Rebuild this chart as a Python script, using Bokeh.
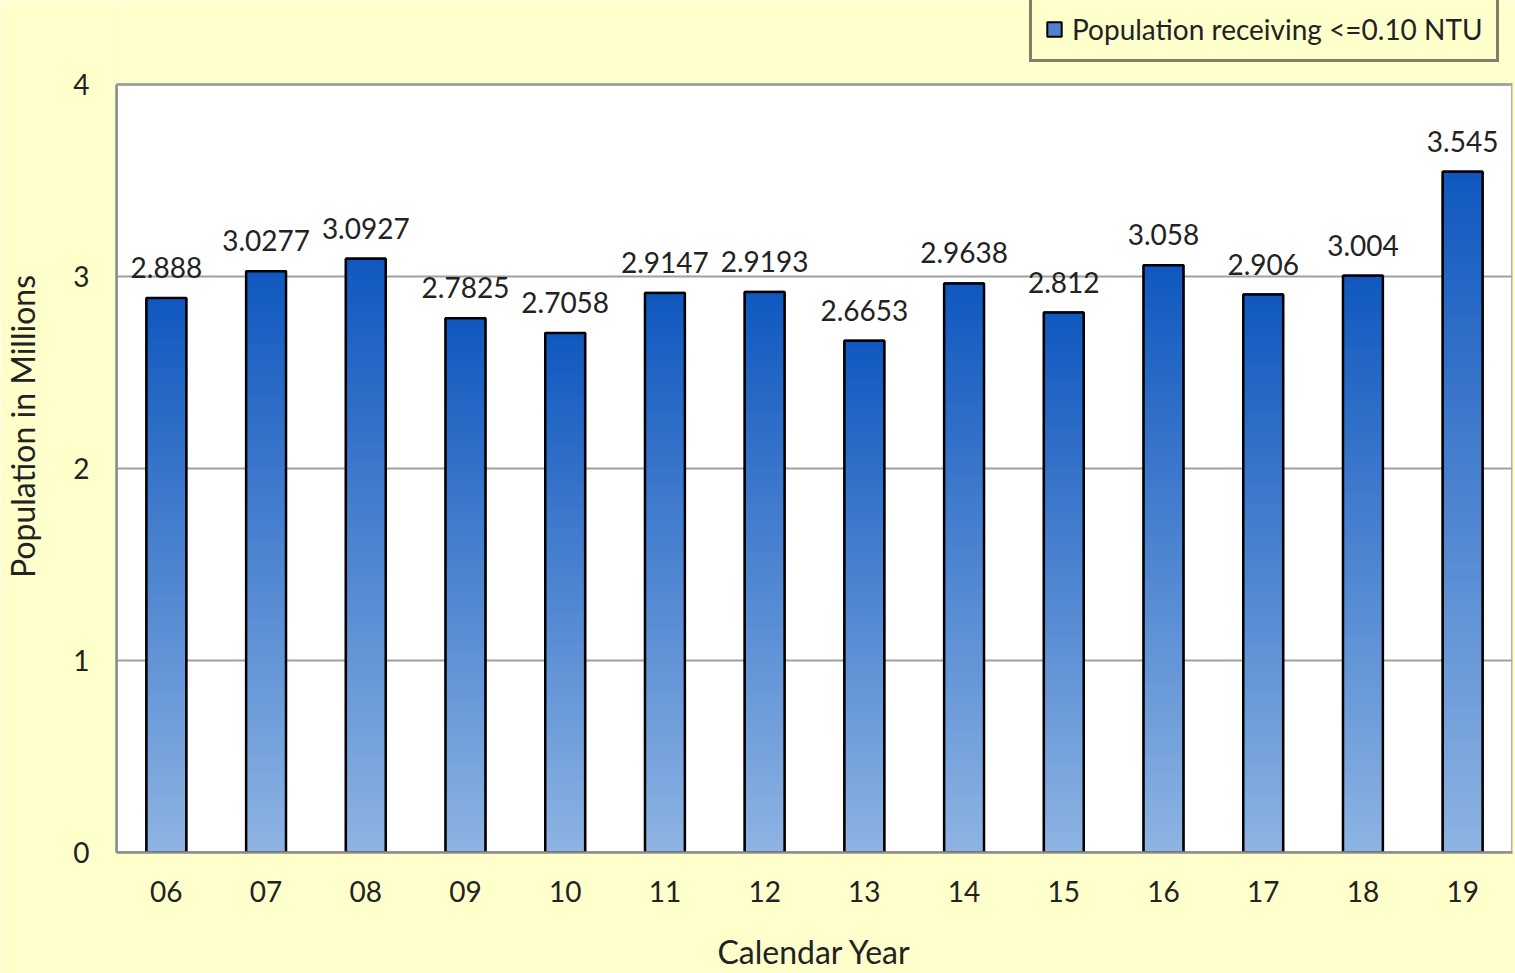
from bokeh.plotting import figure
from bokeh.models import ColumnDataSource, Range1d, Legend, LegendItem, FixedTicker, LabelSet, BoxAnnotation
from bokeh.core.properties import value
from bokeh.embed import file_html
from bokeh.resources import INLINE

years = ["06", "07", "08", "09", "10", "11", "12", "13", "14", "15", "16", "17", "18", "19"]
population = [2.888, 3.0277, 3.0927, 2.7825, 2.7058, 2.9147, 2.9193, 2.6653, 2.9638, 2.812, 3.058, 2.906, 3.004, 3.545]
labels = ["2.888", "3.0277", "3.0927", "2.7825", "2.7058", "2.9147", "2.9193", "2.6653", "2.9638", "2.812", "3.058", "2.906", "3.004", "3.545"]
y_ticks = [0, 1, 2, 3, 4]
series_name = "Population receiving <=0.10 NTU"

FONT = "Lato"
BG = "#FFFFCC"
TOP_RGB = (16, 88, 192)
BOT_RGB = (142, 180, 227)

Y_MAX = 4
H, TOP_PAD, BOT = 973, 84, 121
frame_h = H - BOT
y_top = Y_MAX * frame_h / (frame_h - TOP_PAD)  # frame reaches the top so legend can sit above the plot box

p = figure(width=1515, height=H, x_range=years, y_range=Range1d(0, y_top),
           output_backend="svg", toolbar_location=None,
           min_border_left=116, min_border_right=3, min_border_top=0, min_border_bottom=BOT)
p.border_fill_color = BG
p.background_fill_color = BG
p.outline_line_color = None

# white plot area with black border (0..4)
p.add_layout(BoxAnnotation(bottom=0, top=Y_MAX, fill_color="white", fill_alpha=1,
                           line_color="black", line_width=3, level="image"))

src = ColumnDataSource(dict(x=years, top=population, label=labels))

# base bars (also used as legend swatch)
base = p.vbar(x="x", top="top", width=0.4, source=src, fill_color="#4f80d2",
              line_color="black", line_width=2)

# gradient bars: thin slices from each bar's own value
N = 80
gx, gb, gt, gc = [], [], [], []
for yr, v in zip(years, population):
    for k in range(N):
        f = (k + 0.5) / N
        r = int(BOT_RGB[0] + (TOP_RGB[0] - BOT_RGB[0]) * f)
        g = int(BOT_RGB[1] + (TOP_RGB[1] - BOT_RGB[1]) * f)
        b = int(BOT_RGB[2] + (TOP_RGB[2] - BOT_RGB[2]) * f)
        gx.append(yr)
        gb.append(v * k / N)
        gt.append(v * (k + 1) / N + v * 0.002)
        gc.append("#%02x%02x%02x" % (r, g, b))
p.vbar(x=gx, bottom=gb, top=gt, width=0.4, fill_color=gc, line_color=None)

outline = p.vbar(x="x", top="top", width=0.4, source=src, fill_alpha=0,
                 line_color="black", line_width=2.5)

lbl = LabelSet(x="x", y="top", text="label", source=src, text_align="center",
               text_baseline="alphabetic", y_offset=20,
               text_font=value(FONT), text_font_size="28px", text_color="#222222")
p.add_layout(lbl)

p.ygrid.grid_line_color = "#a0a0a0"
p.ygrid.grid_line_width = 2
p.xgrid.grid_line_color = None

p.yaxis.ticker = FixedTicker(ticks=y_ticks)
p.yaxis.bounds = (0, Y_MAX)
for ax in (p.xaxis[0], p.yaxis[0]):
    ax.axis_line_color = "#8c8c8c"
    ax.axis_line_width = 2.5
    ax.major_tick_line_color = None
    ax.minor_tick_line_color = None
    ax.major_label_text_font = FONT
    ax.major_label_text_font_size = "28px"
    ax.major_label_text_color = "#222222"
    ax.axis_label_text_font = FONT
    ax.axis_label_text_font_size = "32px"
    ax.axis_label_text_font_style = "normal"
    ax.axis_label_text_color = "#222222"

p.yaxis.major_label_standoff = 21
p.xaxis.major_label_standoff = 22
p.xaxis.axis_label = "Calendar Year"
p.xaxis.axis_label_standoff = 27
p.yaxis.axis_label = "Population in Millions"
p.yaxis.axis_label_standoff = 28

legend = Legend(items=[LegendItem(label=series_name, renderers=[base])],
                location=(913, 790))
legend.label_text_font = FONT
legend.label_text_font_size = "28px"
legend.label_text_color = "#222222"
legend.glyph_width = 18
legend.glyph_height = 18
legend.padding = 13
legend.margin = 0
legend.spacing = 0
legend.label_standoff = 9
legend.border_line_color = "black"
legend.border_line_width = 3
legend.background_fill_color = BG
legend.background_fill_alpha = 1
p.add_layout(legend)

open("out.html", "w").write(file_html(p, INLINE))
